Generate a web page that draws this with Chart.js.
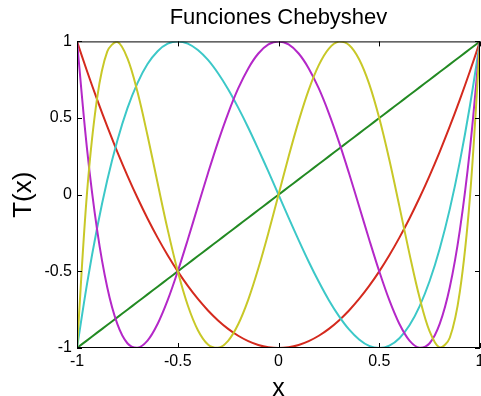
<!DOCTYPE html>
<html><head><meta charset="utf-8">
<script src="https://cdn.jsdelivr.net/npm/chart.js@4/dist/chart.umd.min.js"></script>
<style>html,body{margin:0;padding:0;background:#fff}#wrap{width:481px;height:396px}</style>
</head><body><div id="wrap"><canvas id="c" width="481" height="396"></canvas></div>
<script>
const titleText = "Funciones Chebyshev";
const xLabel = "x";
const yLabel = "T(x)";
const tickValues = [-1, -0.5, 0, 0.5, 1];
const tickLabels = ["-1", "-0.5", "0", "0.5", "1"];
const xs = [-1,-0.95,-0.9,-0.85,-0.8,-0.75,-0.7,-0.65,-0.6,-0.55,-0.5,-0.45,-0.4,-0.35,-0.3,-0.25,-0.2,-0.15,-0.1,-0.05,0,
  0.05,0.1,0.15,0.2,0.25,0.3,0.35,0.4,0.45,0.5,0.55,0.6,0.65,0.7,0.75,0.8,0.85,0.9,0.95,1];
const t1 = [-1,-0.95,-0.9,-0.85,-0.8,-0.75,-0.7,-0.65,-0.6,-0.55,-0.5,-0.45,-0.4,-0.35,-0.3,-0.25,-0.2,-0.15,-0.1,-0.05,0,
  0.05,0.1,0.15,0.2,0.25,0.3,0.35,0.4,0.45,0.5,0.55,0.6,0.65,0.7,0.75,0.8,0.85,0.9,0.95,1];
const t2 = [1,0.805,0.62,0.445,0.28,0.125,-0.02,-0.155,-0.28,-0.395,-0.5,-0.595,-0.68,-0.755,-0.82,-0.875,-0.92,-0.955,-0.98,-0.995,-1,
  -0.995,-0.98,-0.955,-0.92,-0.875,-0.82,-0.755,-0.68,-0.595,-0.5,-0.395,-0.28,-0.155,-0.02,0.125,0.28,0.445,0.62,0.805,1];
const t3 = [-1,-0.58,-0.216,0.094,0.352,0.563,0.728,0.852,0.936,0.985,1,0.986,0.944,0.879,0.792,0.688,0.568,0.437,0.296,0.15,0,
  -0.15,-0.296,-0.437,-0.568,-0.688,-0.792,-0.879,-0.944,-0.986,-1,-0.985,-0.936,-0.852,-0.728,-0.563,-0.352,-0.094,0.216,0.58,1];
const t4 = [1,0.296,-0.231,-0.604,-0.843,-0.969,-0.999,-0.952,-0.843,-0.688,-0.5,-0.292,-0.075,0.14,0.345,0.531,0.693,0.824,0.921,0.98,1,
  0.98,0.921,0.824,0.693,0.531,0.345,0.14,-0.075,-0.292,-0.5,-0.688,-0.843,-0.952,-0.999,-0.969,-0.843,-0.604,-0.231,0.296,1];
const t5 = [-1,0.017,0.632,0.933,0.997,0.891,0.671,0.386,0.076,-0.228,-0.5,-0.723,-0.884,-0.977,-0.999,-0.953,-0.845,-0.684,-0.48,-0.248,0,
  0.248,0.48,0.684,0.845,0.953,0.999,0.977,0.884,0.723,0.5,0.228,-0.076,-0.386,-0.671,-0.891,-0.997,-0.933,-0.632,-0.017,1];
const seriesNames = ["T1","T2","T3","T4","T5"];
const seriesValues = [t1, t2, t3, t4, t5];
const seriesColors = ["#238a23", "#d42a1e", "#3cc8c8", "#b428c8", "#c8c828"];

const FONT = "'Liberation Sans', Arial, Helvetica, sans-serif";

const datasets = seriesValues.map((vals, i) => ({
  label: seriesNames[i],
  data: vals.map((v, j) => ({x: xs[j], y: v})),
  borderColor: seriesColors[i],
  backgroundColor: seriesColors[i],
  borderWidth: 2,
  pointRadius: 0,
  tension: 0.35,
  fill: false,
  order: 5 - i
}));

const frame = {
  id: 'frame',
  afterDraw(chart) {
    const {ctx, chartArea: a, scales: {x, y}} = chart;
    ctx.save();
    ctx.strokeStyle = '#000';
    ctx.lineWidth = 1;
    ctx.strokeRect(a.left + 0.5, a.top + 0.5, a.right - a.left - 1, a.bottom - a.top - 1);
    ctx.beginPath();
    const L = 5;
    tickValues.forEach(v => {
      const px = Math.round(x.getPixelForValue(v)) + 0.5;
      ctx.moveTo(px, a.bottom); ctx.lineTo(px, a.bottom - L);
      ctx.moveTo(px, a.top); ctx.lineTo(px, a.top + L);
      const py = Math.round(y.getPixelForValue(v)) + 0.5;
      ctx.moveTo(a.left, py); ctx.lineTo(a.left + L, py);
      ctx.moveTo(a.right, py); ctx.lineTo(a.right - L, py);
    });
    ctx.stroke();
    // axis titles
    ctx.fillStyle = '#000';
    ctx.textAlign = 'center';
    ctx.textBaseline = 'alphabetic';
    ctx.font = "25px " + FONT;
    ctx.fillText(xLabel, (a.left + a.right) / 2, 396);
    ctx.font = "26px " + FONT;
    ctx.translate(31, (a.top + a.bottom) / 2);
    ctx.rotate(-Math.PI / 2);
    ctx.fillText(yLabel, 0, 0);
    ctx.restore();
  }
};

new Chart(document.getElementById('c'), {
  type: 'line',
  data: { datasets },
  plugins: [frame],
  options: {
    responsive: false,
    animation: false,
    layout: { padding: { left: 0, right: 1, top: 0, bottom: 0 } },
    plugins: {
      legend: { display: false },
      tooltip: { enabled: false },
      title: {
        display: true, text: titleText, fullSize: false, color: '#000',
        font: { family: FONT, size: 22, weight: 'normal' },
        padding: { top: 5, bottom: 10 }
      }
    },
    scales: {
      x: {
        type: 'linear', min: -1, max: 1,
        afterBuildTicks(s) { s.ticks = tickValues.map(v => ({value: v})); },
        afterFit(s) { s.height = 48; s.paddingLeft = 0; s.paddingRight = 0; },
        grid: { display: false, drawTicks: false },
        border: { display: false },
        ticks: {
          color: '#000', padding: 4, maxRotation: 0, autoSkip: false,
          font: { family: FONT, size: 16 },
          callback: (v) => tickLabels[tickValues.indexOf(v)]
        }
      },
      y: {
        type: 'linear', min: -1, max: 1,
        afterBuildTicks(s) { s.ticks = tickValues.map(v => ({value: v})); },
        afterFit(s) { s.width = 77; s.paddingTop = 0; s.paddingBottom = 0; },
        grid: { display: false, drawTicks: false },
        border: { display: false },
        ticks: {
          color: '#000', padding: 5, autoSkip: false,
          font: { family: FONT, size: 16 },
          callback: (v) => tickLabels[tickValues.indexOf(v)]
        }
      }
    }
  }
});
</script></body></html>
